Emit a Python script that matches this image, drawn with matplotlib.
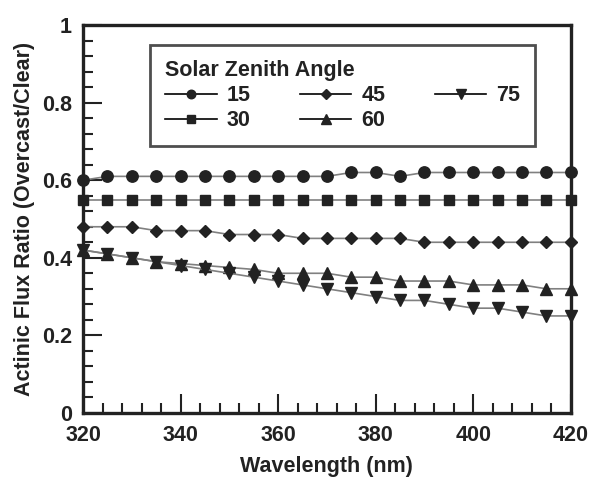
import matplotlib
matplotlib.use('Agg')
import matplotlib.pyplot as plt
from matplotlib.lines import Line2D
from matplotlib.ticker import MultipleLocator

plt.rcParams['font.family'] = ['Liberation Sans', 'DejaVu Sans']
plt.rcParams['font.weight'] = 'bold'

wavelength = [320, 325, 330, 335, 340, 345, 350, 355, 360, 365, 370,
              375, 380, 385, 390, 395, 400, 405, 410, 415, 420]
sza15 = [0.60, 0.61, 0.61, 0.61, 0.61, 0.61, 0.61, 0.61, 0.61, 0.61, 0.61,
         0.62, 0.62, 0.61, 0.62, 0.62, 0.62, 0.62, 0.62, 0.62, 0.62]
sza30 = [0.55] * 21
sza45 = [0.48, 0.48, 0.48, 0.47, 0.47, 0.47, 0.46, 0.46, 0.46, 0.45, 0.45,
         0.45, 0.45, 0.45, 0.44, 0.44, 0.44, 0.44, 0.44, 0.44, 0.44]
sza60 = [0.42, 0.41, 0.40, 0.39, 0.385, 0.38, 0.375, 0.37, 0.36, 0.36, 0.36,
         0.35, 0.35, 0.34, 0.34, 0.34, 0.33, 0.33, 0.33, 0.32, 0.32]
sza75 = [0.42, 0.41, 0.40, 0.39, 0.38, 0.37, 0.36, 0.35, 0.34, 0.33, 0.32,
         0.31, 0.30, 0.29, 0.29, 0.28, 0.27, 0.27, 0.26, 0.25, 0.25]

series = [('15', sza15, 'o', 8.2), ('30', sza30, 's', 7.5),
          ('45', sza45, 'D', 6.5), ('60', sza60, '^', 9),
          ('75', sza75, 'v', 9)]

fig = plt.figure(figsize=(5.89, 4.84), dpi=100)
ax = fig.add_axes([0.141, 0.147, 0.828, 0.801])

dark = '#222222'
for name, vals, m, ms in series:
    ax.plot(wavelength, vals, color='#808080', lw=1.2, marker=m, ms=ms,
            mfc=dark, mec=dark, clip_on=False, zorder=3)

ax.set_xlim(320, 420)
ax.set_ylim(0, 1)
ax.xaxis.set_major_locator(MultipleLocator(20))
ax.xaxis.set_minor_locator(MultipleLocator(4))
ax.yaxis.set_major_locator(MultipleLocator(0.2))
ax.yaxis.set_minor_locator(MultipleLocator(0.04))
ax.set_yticks([0, 0.2, 0.4, 0.6, 0.8, 1])
ax.set_yticklabels(['0', '0.2', '0.4', '0.6', '0.8', '1'])
ax.tick_params(which='both', direction='in', top=False, right=False,
               labelsize=15.5, width=1.5, color=dark, labelcolor=dark)
ax.tick_params(which='major', length=13.5)
ax.tick_params(which='minor', length=7.2)
ax.tick_params(axis='x', which='major', pad=9)
ax.tick_params(axis='y', which='major', pad=8)
for s in ax.spines.values():
    s.set_linewidth(2.4)
    s.set_color(dark)

ax.set_xlabel('Wavelength (nm)', fontsize=15.5, fontweight='bold', color=dark, labelpad=7)
ax.set_ylabel('Actinic Flux Ratio (Overcast/Clear)', fontsize=15.5,
              fontweight='bold', color=dark, labelpad=5)

handles = [Line2D([], [], color='black', lw=1.2, marker=m, ms=ms * 0.75,
                  mfc=dark, mec=dark) for _, _, m, ms in series]
labels = [s[0] for s in series]
leg = ax.legend(handles, labels, title='Solar Zenith Angle', ncol=3,
                loc='upper left', bbox_to_anchor=(0.137, 0.948), borderaxespad=0,
                fontsize=15.5, title_fontsize=15.5, frameon=True, fancybox=False,
                edgecolor=dark, handlelength=2.4, handletextpad=0.45,
                columnspacing=2.3, labelspacing=0.18, borderpad=0.7,
                alignment='left')
leg.get_frame().set_linewidth(2)
leg.get_title().set_fontweight('bold')
leg.get_title().set_color(dark)
for t in leg.get_texts():
    t.set_color(dark)

fig.savefig('out.png', dpi=100)
